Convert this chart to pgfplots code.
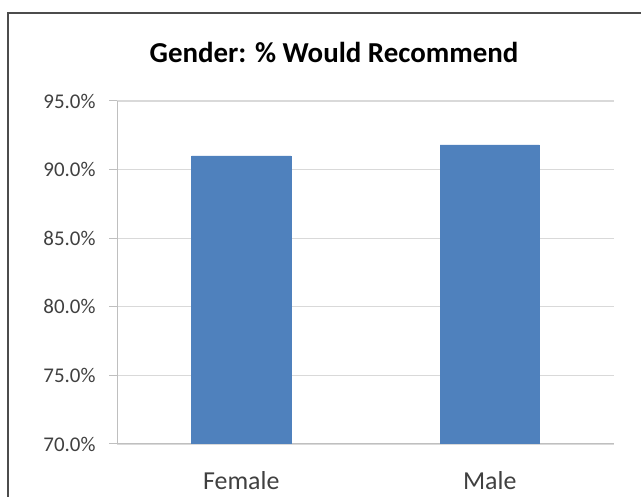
\documentclass[border=0pt]{standalone}
\usepackage{pgfplots}
\pgfplotsset{compat=1.18}
\usepackage{fontspec}
\setmainfont{Carlito}
\definecolor{barblue}{HTML}{4F81BD}
\definecolor{gridgray}{HTML}{D9D9D9}
\definecolor{axgray}{HTML}{BFBFBF}
\definecolor{txt}{HTML}{404040}
\begin{document}
\begin{tikzpicture}[x=1bp,y=1bp]
\useasboundingbox (0,0) rectangle (641,497);
\draw[color=black!70,line width=1.5bp] (8,-20) -- (8,484) -- (680,484);
\node[font=\fontsize{29}{34}\selectfont\bfseries] at (334,445) {Gender: \% Would Recommend};
\begin{axis}[
  at={(117bp,53bp)}, anchor=south west,
  scale only axis, width=497bp, height=343bp,
  ymin=70, ymax=95,
  xmin=-0.5, xmax=1.5,
  ytick={70,75,80,85,90,95},
  yticklabels={70.0\%,75.0\%,80.0\%,85.0\%,90.0\%,95.0\%},
  xtick={0,1}, xticklabels={Female,Male},
  extra x ticks={-0.5,0.5,1.5}, extra x tick labels={},
  extra x tick style={major tick length=7bp, tick style={axgray, line width=1bp}, xticklabel=\empty},
  x tick style={draw=none},
  y tick style={axgray, line width=1bp},
  tick align=outside, major tick length=8bp,
  ymajorgrids, grid style={gridgray, line width=1.2bp},
  axis x line*=bottom, axis y line*=left,
  axis line style={axgray, line width=1bp, -},
  tick label style={text=txt},
  yticklabel style={font=\fontsize{21}{25}\selectfont, xshift=-10bp},
  xticklabel style={font=\fontsize{26}{30}\selectfont, yshift=-16bp},
  /pgf/number format/assume math mode=true,
  ybar, bar width=0.4, bar shift=0,
]
\addplot[fill=barblue, draw=barblue] coordinates {(0,91.0) (1,91.8)};
\end{axis}
\end{tikzpicture}
\end{document}
